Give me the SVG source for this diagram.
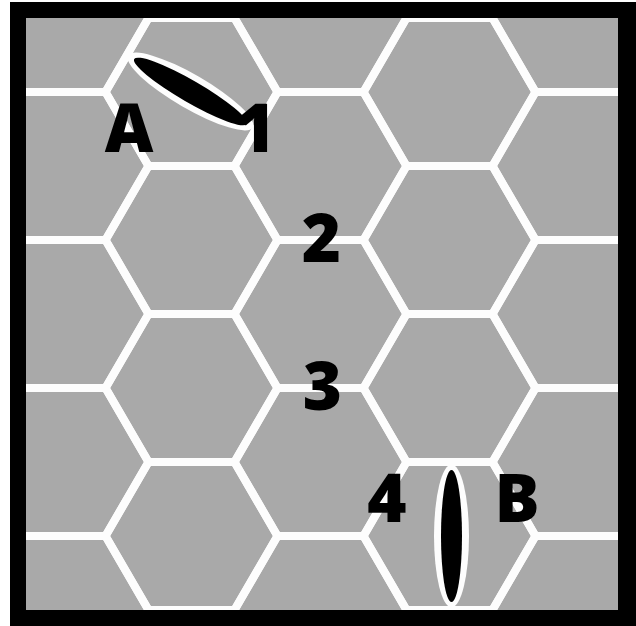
<svg xmlns="http://www.w3.org/2000/svg" xmlns:xlink="http://www.w3.org/1999/xlink" width="636" height="626" viewBox="0 0 636 626">
  <style>
    .hex { fill: none; stroke: #fdfdfd; stroke-width: 8; stroke-linejoin: round; }
    .lbl { font-family: "Open Sans", "Liberation Sans", sans-serif; font-weight: 800; font-size: 67px; fill: #000; text-anchor: middle; }
    .ring { fill: #fdfdfd; }
    .core { fill: #000; }
  </style>
  <defs>
    <path id="hx" d="M -86 0 L -43 -74 L 43 -74 L 86 0 L 43 74 L -43 74 Z"/>
    <clipPath id="field"><rect x="26" y="18" width="592" height="592"/></clipPath>
  </defs>
  <rect width="636" height="626" fill="#fff"/>
  <g id="frame">
    <rect x="10" y="2" width="626" height="624" fill="#000"/>
    <rect x="26" y="18" width="592" height="592" fill="#a9a9a9"/>
  </g>
  <g id="grid" clip-path="url(#field)" class="hex">
    <use xlink:href="#hx" x="62.5" y="18"/>
    <use xlink:href="#hx" x="62.5" y="166"/>
    <use xlink:href="#hx" x="62.5" y="314"/>
    <use xlink:href="#hx" x="62.5" y="462"/>
    <use xlink:href="#hx" x="62.5" y="610"/>
    <use xlink:href="#hx" x="191.5" y="-56"/>
    <use xlink:href="#hx" x="191.5" y="92"/>
    <use xlink:href="#hx" x="191.5" y="240"/>
    <use xlink:href="#hx" x="191.5" y="388"/>
    <use xlink:href="#hx" x="191.5" y="536"/>
    <use xlink:href="#hx" x="191.5" y="684"/>
    <use xlink:href="#hx" x="320.5" y="18"/>
    <use xlink:href="#hx" x="320.5" y="166"/>
    <use xlink:href="#hx" x="320.5" y="314"/>
    <use xlink:href="#hx" x="320.5" y="462"/>
    <use xlink:href="#hx" x="320.5" y="610"/>
    <use xlink:href="#hx" x="449.5" y="-56"/>
    <use xlink:href="#hx" x="449.5" y="92"/>
    <use xlink:href="#hx" x="449.5" y="240"/>
    <use xlink:href="#hx" x="449.5" y="388"/>
    <use xlink:href="#hx" x="449.5" y="536"/>
    <use xlink:href="#hx" x="449.5" y="684"/>
    <use xlink:href="#hx" x="578.5" y="18"/>
    <use xlink:href="#hx" x="578.5" y="166"/>
    <use xlink:href="#hx" x="578.5" y="314"/>
    <use xlink:href="#hx" x="578.5" y="462"/>
    <use xlink:href="#hx" x="578.5" y="610"/>
  </g>
  <g id="marker-A1" transform="translate(190.5 91.5) rotate(30)">
    <ellipse class="ring" cx="0" cy="0" rx="72" ry="17"/>
    <ellipse class="core" cx="0" cy="0" rx="65" ry="11"/>
  </g>
  <g id="marker-4B" transform="translate(451.5 536)">
    <ellipse class="ring" cx="0" cy="0" rx="17.5" ry="71.5"/>
    <ellipse class="core" cx="0" cy="0" rx="10.5" ry="66"/>
  </g>
  <g id="labels" class="lbl">
    <text x="129" y="152">A</text>
    <text x="256" y="152">1</text>
    <text x="321.5" y="262">2</text>
    <text x="322.5" y="410">3</text>
    <text x="387" y="522">4</text>
    <text x="517" y="522">B</text>
  </g>
</svg>
